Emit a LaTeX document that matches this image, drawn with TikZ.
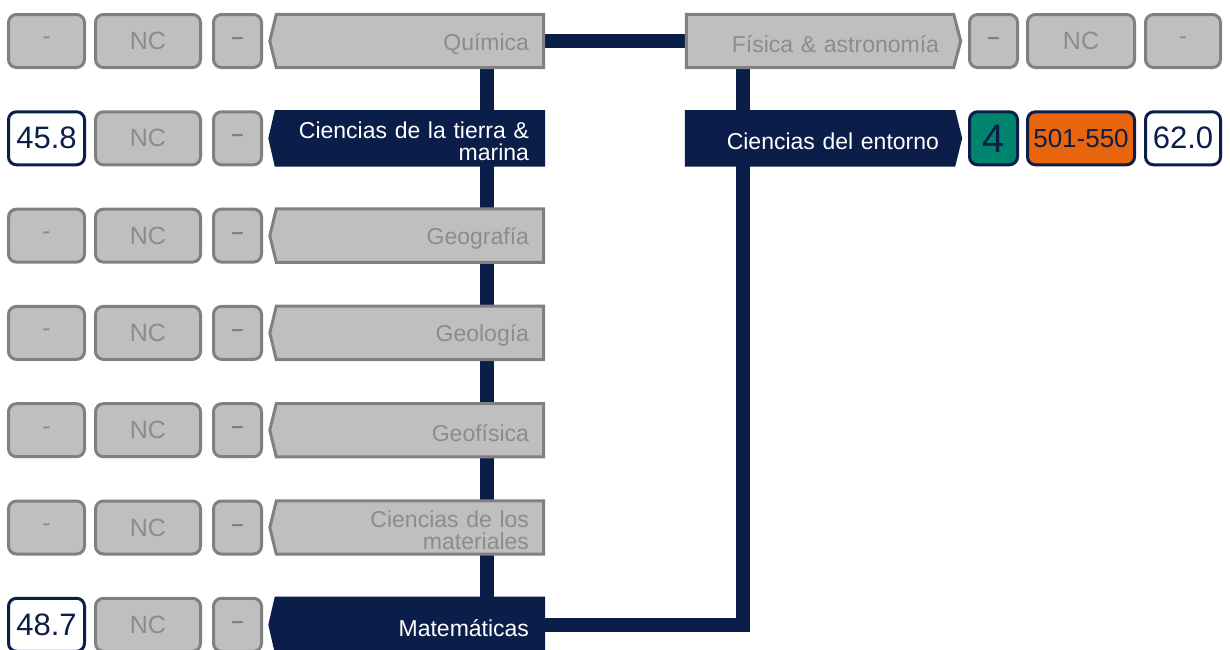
\documentclass[tikz,border=0pt]{standalone}
\usepackage{fontspec}
\setmainfont{Liberation Sans}
\definecolor{navy}{HTML}{0B1E4A}
\definecolor{gfill}{HTML}{BFBFBF}
\definecolor{gline}{HTML}{808080}
\definecolor{gtext}{HTML}{8C8C8C}
\definecolor{tealc}{HTML}{00846E}
\definecolor{orng}{HTML}{E8650E}
\pgfdeclarelayer{bg}
\pgfsetlayers{bg,main}
\newcommand\leftlab[2]{\path[#2] (#1.north west) -- (#1.north east) -- (#1.south east) -- (#1.south west) -- ([xshift=-6.5pt]#1.west) -- cycle;}
\newcommand\rightlab[2]{\path[#2] (#1.north west) -- (#1.north east) -- ([xshift=7pt]#1.east) -- (#1.south east) -- (#1.south west) -- cycle;}
\newcommand\labtxt[3]{\node[labtext, #1] (#2t) at ([yshift=-3pt]#2.center) {#3};}
\tikzset{
  box/.style={rectangle, rounded corners=8pt, line width=3pt, minimum height=53pt, inner sep=0pt, font=\fontsize{25}{25}\selectfont},
  graybox/.style={box, draw=gline, fill=gfill, text=gtext},
  valbox/.style={box, draw=navy, fill=white, text=navy, font=\fontsize{31}{31}\selectfont},
  w1/.style={minimum width=76pt}, w2/.style={minimum width=105pt}, w3/.style={minimum width=48pt},
  wa/.style={minimum width=48pt}, wb/.style={minimum width=107pt}, wc/.style={minimum width=75pt},
  thin/.style={font=\fontsize{25}{25}\selectfont, text=gtext},
  thick/.style={font=\bfseries\fontsize{22}{22}\selectfont, text=gline},
  graylab/.style={rectangle, inner sep=0pt, minimum height=53pt, minimum width=267pt},
  navylab/.style={rectangle, inner sep=0pt, minimum height=56pt, minimum width=270pt},
  labtext/.style={rectangle, inner xsep=15pt, inner ysep=0pt, text width=238pt, align=right, font=\fontsize{23}{22}\selectfont},
  gtxt/.style={text=gtext},
  wtxt/.style={text=white},
  grayshape/.style={fill=gfill, draw=gline, line width=3pt},
  navyshape/.style={fill=navy},
  spine/.style={line width=14.5pt, draw=navy},
}
\begin{document}
\begin{tikzpicture}[x=1pt,y=-1pt]
\useasboundingbox (0,0) rectangle (1230,649);
% left labels
\node[graylab] (quim) at (410,41) {};
\node[navylab] (ctm) at (410,138.3) {};
\node[graylab] (geog) at (410,235.6) {};
\node[graylab] (geol) at (410,332.9) {};
\node[graylab] (geof) at (410,430.2) {};
\node[graylab] (cmat) at (410,527.5) {};
\node[navylab] (mate) at (410,624.8) {};
% right labels
\node[graylab] (fis) at (820,41) {};
\node[navylab] (cent) at (820,138.3) {};
\labtxt{gtxt}{quim}{Química}
\labtxt{wtxt}{ctm}{Ciencias de la tierra \&\\marina}
\labtxt{gtxt}{geog}{Geografía}
\labtxt{gtxt}{geol}{Geología}
\labtxt{gtxt}{geof}{Geofísica}
\labtxt{gtxt}{cmat}{Ciencias de los\\materiales}
\labtxt{wtxt}{mate}{Matemáticas}
\labtxt{gtxt}{fis}{Física \& astronomía}
\labtxt{wtxt}{cent}{Ciencias del entorno}
% left boxes
\node[graybox,w1,thin] (q1) at (46.5,41) {-};
\node[graybox,w2] (q2) at (148,41) {NC};
\node[graybox,w3,thick] (q3) at (237.5,41) {–};
\node[valbox,w1] (c1) at (46.5,138.3) {45.8};
\node[graybox,w2] (c2) at (148,138.3) {NC};
\node[graybox,w3,thick] (c3) at (237.5,138.3) {–};
\node[graybox,w1,thin] (g1) at (46.5,235.6) {-};
\node[graybox,w2] (g2) at (148,235.6) {NC};
\node[graybox,w3,thick] (g3) at (237.5,235.6) {–};
\node[graybox,w1,thin] (l1) at (46.5,332.9) {-};
\node[graybox,w2] (l2) at (148,332.9) {NC};
\node[graybox,w3,thick] (l3) at (237.5,332.9) {–};
\node[graybox,w1,thin] (f1) at (46.5,430.2) {-};
\node[graybox,w2] (f2) at (148,430.2) {NC};
\node[graybox,w3,thick] (f3) at (237.5,430.2) {–};
\node[graybox,w1,thin] (m1) at (46.5,527.5) {-};
\node[graybox,w2] (m2) at (148,527.5) {NC};
\node[graybox,w3,thick] (m3) at (237.5,527.5) {–};
\node[valbox,w1] (t1) at (46.5,624.8) {48.7};
\node[graybox,w2] (t2) at (148,624.8) {NC};
\node[graybox,w3,thick] (t3) at (237.5,624.8) {–};
% right boxes
\node[graybox,wa,thick] (fa) at (993.5,41) {–};
\node[graybox,wb] (fb) at (1081,41) {NC};
\node[graybox,wc,thin] (fc) at (1183,41) {-};
\node[valbox,wa,fill=tealc,font=\fontsize{40}{40}\selectfont] (ea) at (993.5,138.3) {4};
\node[valbox,wb,fill=orng,font=\fontsize{26}{26}\selectfont] (eb) at (1081,138.3) {501-550};
\node[valbox,wc] (ec) at (1183,138.3) {62.0};
\begin{pgfonlayer}{bg}
  \draw[spine] ([xshift=77pt]quim.center) -- ([xshift=77pt]mate.center);
  \draw[spine] (quim.center) -- (fis.center);
  \draw[spine] ([xshift=-77pt]fis.center) |- (mate.center);
  \leftlab{quim}{grayshape}
  \leftlab{ctm}{navyshape}
  \leftlab{geog}{grayshape}
  \leftlab{geol}{grayshape}
  \leftlab{geof}{grayshape}
  \leftlab{cmat}{grayshape}
  \leftlab{mate}{navyshape}
  \rightlab{fis}{grayshape}
  \rightlab{cent}{navyshape}
\end{pgfonlayer}
\end{tikzpicture}
\end{document}
